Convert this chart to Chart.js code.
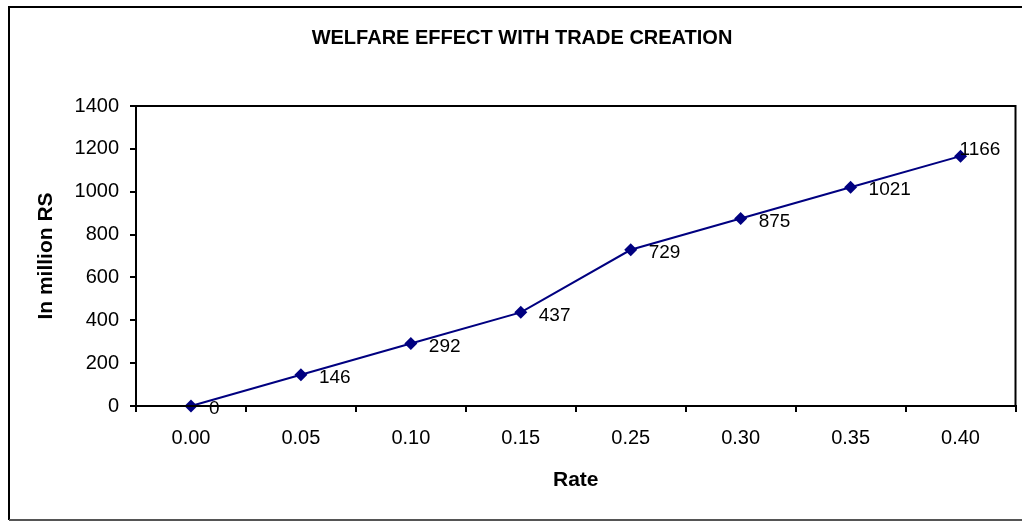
<!DOCTYPE html>
<html>
<head>
<meta charset="utf-8">
<script src="https://cdn.jsdelivr.net/npm/chart.js@4"></script>
<style>
html,body{margin:0;padding:0;background:#fff;}
#wrap{width:1022px;height:521px;position:relative;}
</style>
</head>
<body>
<div id="wrap"><canvas id="c" width="1022" height="521"></canvas></div>
<script>
const chartTitle = 'WELFARE EFFECT WITH TRADE CREATION';
const categories = ['0.00', '0.05', '0.10', '0.15', '0.25', '0.30', '0.35', '0.40'];
const welfare = [0, 146, 292, 437, 729, 875, 1021, 1166];
const yTicks = [0, 200, 400, 600, 800, 1000, 1200, 1400];
const xTitle = 'Rate';
const yTitle = 'In million RS';

const FONT = "'Liberation Sans', Arial, sans-serif";

const framePlugin = {
  id: 'frame',
  beforeDraw(chart) {
    const ctx = chart.ctx;
    ctx.save();
    ctx.fillStyle = '#fff';
    ctx.fillRect(0, 0, chart.width, chart.height);
    ctx.strokeStyle = '#000';
    ctx.lineWidth = 2;
    ctx.beginPath();
    ctx.moveTo(1030, 7);
    ctx.lineTo(9, 7);
    ctx.lineTo(9, 520);
    ctx.stroke();
    ctx.strokeStyle = '#555';
    ctx.beginPath();
    ctx.moveTo(9, 520);
    ctx.lineTo(1030, 520);
    ctx.stroke();
    // title
    ctx.fillStyle = '#000';
    ctx.font = 'bold 20px ' + FONT;
    ctx.textAlign = 'center';
    ctx.textBaseline = 'middle';
    ctx.fillText(chartTitle, 522, 38);
    ctx.restore();
  },
  afterDatasetsDraw(chart) {
    const ctx = chart.ctx;
    const a = chart.chartArea;
    ctx.save();
    ctx.strokeStyle = '#000';
    ctx.lineWidth = 2;
    ctx.strokeRect(a.left, a.top, a.right - a.left, a.bottom - a.top);
    // data labels
    ctx.font = '19px ' + FONT;
    ctx.fillStyle = '#000';
    ctx.textAlign = 'left';
    ctx.textBaseline = 'middle';
    const meta = chart.getDatasetMeta(0);
    meta.data.forEach((pt, i) => {
      const txt = String(chart.data.datasets[0].data[i]);
      const w = ctx.measureText(txt).width;
      let x = pt.x + 18, y = pt.y + 3;
      if (x + w > a.right - 12) { x = pt.x - 1; y = pt.y - 6; }
      ctx.fillText(txt, x, y);
    });
    ctx.restore();
  }
};

new Chart(document.getElementById('c'), {
  type: 'line',
  data: {
    labels: categories,
    datasets: [{
      data: welfare,
      borderColor: '#000080',
      backgroundColor: '#000080',
      borderWidth: 2,
      pointStyle: 'rectRot',
      pointRadius: 6.5,
      pointBorderWidth: 0,
      tension: 0,
      clip: false
    }]
  },
  options: {
    responsive: false,
    animation: false,
    events: [],
    layout: { padding: { top: 106, right: 6, left: 0, bottom: 0 } },
    plugins: { legend: { display: false }, title: { display: false }, tooltip: { enabled: false } },
    scales: {
      x: {
        type: 'category',
        offset: true,
        grid: { offset: true, drawOnChartArea: false, drawTicks: true, tickLength: 6, color: '#000', lineWidth: 2 },
        border: { display: true, color: '#000', width: 2 },
        ticks: { color: '#000', font: { family: FONT, size: 20 }, padding: 14, maxRotation: 0 },
        title: { display: true, text: xTitle, color: '#000', font: { family: FONT, size: 21, weight: 'bold' }, padding: { top: 0, bottom: 28 } },
        afterFit(s) { s.height = 115; }
      },
      y: {
        min: 0, max: 1400,
        afterBuildTicks(s) { s.ticks = yTicks.map(v => ({ value: v })); },
        grid: { drawOnChartArea: false, drawTicks: true, tickLength: 6, color: '#000', lineWidth: 2 },
        border: { display: true, color: '#000', width: 2 },
        ticks: { color: '#000', font: { family: FONT, size: 20 }, padding: 11, callback: v => String(v) },
        title: { display: true, text: yTitle, color: '#000', font: { family: FONT, size: 21, weight: 'bold' }, padding: { top: 34, bottom: 0 } },
        afterFit(s) { s.width = 136; }
      }
    }
  },
  plugins: [framePlugin]
});
</script>
</body>
</html>
